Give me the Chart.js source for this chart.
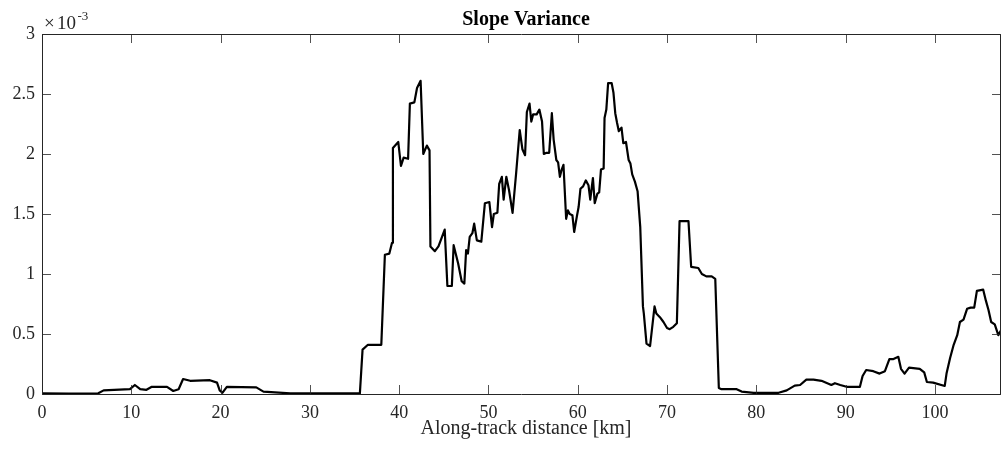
<!DOCTYPE html>
<html>
<head>
<meta charset="utf-8">
<script src="https://cdn.jsdelivr.net/npm/chart.js@4.4.1/dist/chart.umd.min.js"></script>
<style>
  html, body { margin: 0; padding: 0; background: #fff; }
  #wrap { width: 1002px; height: 454px; }
</style>
</head>
<body>
<div id="wrap"><canvas id="slopeChart" width="1002" height="454"></canvas></div>
<script>
// Distância ao longo do traço [km] e variância do declive (x 10^-3)
const distanciaKm = [
  0, 3, 6.3, 6.9, 9.85, 10.4, 11.0, 11.7, 12.3, 14.0, 14.7, 15.3, 15.8, 16.6, 18.8, 19.6, 19.9, 20.2, 20.7, 24.0,
  24.8, 27.8, 35.6, 35.9, 36.5, 38.0, 38.4, 38.9, 39.2, 39.3, 39.9, 40.2, 40.5, 41.0, 41.2, 41.7, 42.0, 42.4, 42.7, 43.1,
  43.4, 43.5, 44.0, 44.4, 45.1, 45.4, 45.9, 46.1, 46.6, 47.0, 47.3, 47.5, 47.7, 47.9, 48.2, 48.4, 48.7, 49.2, 49.6, 50.1,
  50.4, 50.6, 51.0, 51.2, 51.5, 51.7, 52.0, 52.3, 52.7, 53.1, 53.5, 53.8, 54.1, 54.3, 54.6, 54.8, 55.0, 55.4, 55.7, 56.0,
  56.2, 56.5, 56.8, 57.1, 57.3, 57.6, 57.8, 58.0, 58.2, 58.4, 58.7, 58.9, 59.1, 59.4, 59.6, 59.9, 60.1, 60.3, 60.6, 60.9,
  61.2, 61.4, 61.7, 61.9, 62.2, 62.4, 62.6, 62.9, 63.0, 63.2, 63.4, 63.8, 64.0, 64.2, 64.4, 64.6, 64.9, 65.1, 65.4, 65.7,
  65.9, 66.1, 66.4, 66.7, 67.0, 67.3, 67.4, 67.7, 68.1, 68.6, 68.8, 69.2, 69.6, 70.0, 70.3, 70.7, 71.1, 71.4, 72.4, 72.7,
  73.5, 73.9, 74.4, 75.0, 75.4, 75.8, 76.1, 77.8, 78.35, 79.7, 82.5, 83.4, 84.3, 84.9, 85.6, 86.4, 87.3, 88.4, 88.8, 89.4,
  90.1, 91.6, 91.9, 92.3, 93.1, 93.8, 94.4, 94.9, 95.3, 95.9, 96.2, 96.6, 97.1, 98.3, 98.8, 99.1, 99.8, 101.1, 101.3, 101.7,
  102.1, 102.5, 102.8, 103.2, 103.6, 104.0, 104.4, 104.7, 105.4, 105.7, 106.0, 106.3, 106.7, 107.1, 107.4
];
const variancia = [
  0.005, 0.004, 0.006, 0.03, 0.04, 0.075, 0.04, 0.035, 0.06, 0.06, 0.025, 0.04, 0.125, 0.11, 0.115, 0.095, 0.03, 0.01, 0.06, 0.055,
  0.02, 0.005, 0.005, 0.37, 0.41, 0.41, 1.16, 1.17, 1.26, 2.05, 2.1, 1.9, 1.97, 1.96, 2.42, 2.43, 2.55, 2.61, 2.0, 2.07,
  2.03, 1.23, 1.19, 1.23, 1.37, 0.9, 0.9, 1.24, 1.09, 0.94, 0.92, 1.2, 1.17, 1.31, 1.34, 1.42, 1.28, 1.27, 1.59, 1.6,
  1.39, 1.5, 1.51, 1.75, 1.81, 1.62, 1.81, 1.7, 1.51, 1.84, 2.2, 2.04, 1.99, 2.35, 2.42, 2.27, 2.33, 2.33, 2.37, 2.27,
  2.0, 2.01, 2.01, 2.34, 2.12, 1.95, 1.93, 1.81, 1.87, 1.91, 1.46, 1.53, 1.5, 1.49, 1.35, 1.48, 1.56, 1.71, 1.73, 1.78,
  1.74, 1.62, 1.8, 1.59, 1.67, 1.68, 1.87, 1.88, 2.3, 2.37, 2.59, 2.59, 2.51, 2.34, 2.26, 2.19, 2.22, 2.09, 2.1, 1.95,
  1.92, 1.83, 1.77, 1.69, 1.39, 0.73, 0.67, 0.42, 0.4, 0.73, 0.67, 0.64, 0.6, 0.55, 0.54, 0.56, 0.59, 1.44, 1.44, 1.06,
  1.05, 1.0, 0.98, 0.98, 0.96, 0.05, 0.04, 0.04, 0.02, 0.01, 0.01, 0.03, 0.07, 0.075, 0.12, 0.12, 0.11, 0.075, 0.09, 0.075,
  0.06, 0.06, 0.15, 0.2, 0.19, 0.17, 0.19, 0.29, 0.29, 0.31, 0.21, 0.17, 0.22, 0.21, 0.18, 0.1, 0.095, 0.067, 0.17, 0.3,
  0.41, 0.49, 0.6, 0.62, 0.71, 0.72, 0.72, 0.86, 0.87, 0.78, 0.7, 0.6, 0.58, 0.49, 0.53
];
const ticksX = [0, 10, 20, 30, 40, 50, 60, 70, 80, 90, 100];
const ticksY = [0, 0.5, 1, 1.5, 2, 2.5, 3];
const tituloGrafico = 'Slope Variance';
const tituloEixoX = 'Along-track distance [km]';
const expoenteY = '-3';

const fonteSerif = '"Liberation Serif", "Times New Roman", serif';
const corEixo = '#262626';

// Caixa estilo MATLAB: bordas, marcas para dentro, títulos
const caixaMatlab = {
    id: 'caixaMatlab',
    afterDraw(chart) {
        const { ctx, chartArea: a, scales } = chart;
        const tam = 9;
        ctx.save();
        ctx.strokeStyle = corEixo;
        ctx.lineWidth = 1;
        ctx.beginPath();
        ctx.rect(Math.round(a.left) + 0.5, Math.round(a.top) + 0.5,
                 Math.round(a.right - a.left) - 1, Math.round(a.bottom - a.top));
        ctx.stroke();

        ctx.lineWidth = 0.8;
        ctx.beginPath();
        ticksX.forEach(v => {
            const px = Math.round(scales.x.getPixelForValue(v)) + 0.5;
            ctx.moveTo(px, a.bottom); ctx.lineTo(px, a.bottom - tam);
            ctx.moveTo(px, a.top); ctx.lineTo(px, a.top + tam);
        });
        ticksY.forEach(v => {
            const py = Math.round(scales.y.getPixelForValue(v)) + 0.5;
            ctx.moveTo(a.left, py); ctx.lineTo(a.left + tam, py);
            ctx.moveTo(a.right, py); ctx.lineTo(a.right - tam, py);
        });
        ctx.stroke();

        ctx.fillStyle = '#000';
        ctx.textAlign = 'center';
        ctx.textBaseline = 'alphabetic';
        ctx.font = 'bold 20px ' + fonteSerif;
        ctx.fillText(tituloGrafico, 526, 25);

        ctx.fillStyle = corEixo;
        ctx.font = '20px ' + fonteSerif;
        ctx.fillText(tituloEixoX, 526, 434);

        // multiplicador x10^-3
        ctx.textAlign = 'left';
        ctx.font = '19px ' + fonteSerif;
        ctx.fillText('\u00d7', 44, 29);
        ctx.fillText('10', 57, 29);
        ctx.font = '13px ' + fonteSerif;
        ctx.fillText(expoenteY, 77.5, 20);
        ctx.restore();
    }
};

const ctx = document.getElementById('slopeChart').getContext('2d');
new Chart(ctx, {
    type: 'line',
    data: {
        datasets: [{
            label: tituloGrafico,
            data: distanciaKm.map((d, i) => ({ x: d, y: variancia[i] })),
            borderColor: '#000',
            borderWidth: 2.2,
            pointRadius: 0,
            tension: 0,
            fill: false,
            borderJoinStyle: 'round'
        }]
    },
    options: {
        responsive: false,
        animation: false,
        layout: { padding: { top: 34, right: 1, left: 0, bottom: 0 } },
        scales: {
            x: {
                type: 'linear',
                min: 0,
                max: 107.4,
                afterFit: s => { s.height = 60; },
                afterBuildTicks: s => { s.ticks = ticksX.map(v => ({ value: v })); },
                grid: { display: false, drawTicks: false },
                border: { display: false },
                ticks: {
                    color: corEixo,
                    padding: 8,
                    maxRotation: 0,
                    font: { family: fonteSerif, size: 18 }
                }
            },
            y: {
                min: 0,
                max: 3,
                afterFit: s => { s.width = 42; },
                afterBuildTicks: s => { s.ticks = ticksY.map(v => ({ value: v })); },
                grid: { display: false, drawTicks: false },
                border: { display: false },
                ticks: {
                    color: corEixo,
                    padding: 7,
                    font: { family: fonteSerif, size: 18 },
                    callback: v => String(v)
                }
            }
        },
        plugins: {
            legend: { display: false },
            tooltip: { enabled: false }
        }
    },
    plugins: [caixaMatlab]
});
</script>
</body>
</html>
